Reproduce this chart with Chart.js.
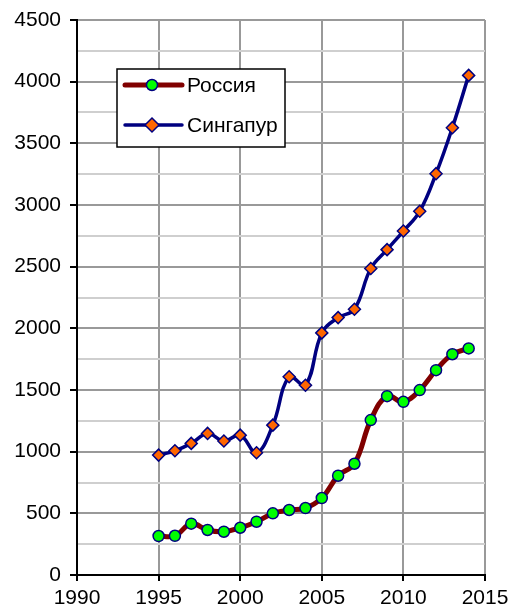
<!DOCTYPE html>
<html>
<head>
<meta charset="utf-8">
<script src="https://cdn.jsdelivr.net/npm/chart.js@4/dist/chart.umd.min.js"></script>
<style>
  html, body { margin: 0; padding: 0; background: #fff; }
  #wrap { width: 509px; height: 612px; position: relative; }
</style>
</head>
<body>
<div id="wrap"><canvas id="chart"></canvas></div>
<script>
// yearly values, 1995–2014
const years = [1995, 1996, 1997, 1998, 1999, 2000, 2001, 2002, 2003, 2004,
               2005, 2006, 2007, 2008, 2009, 2010, 2011, 2012, 2013, 2014];
const russia = [316, 318, 416, 365, 351, 383, 432, 500, 527, 543,
                624, 805, 902, 1256, 1450, 1404, 1499, 1661, 1790, 1837];
const singapore = [972, 1007, 1067, 1148, 1086, 1134, 991, 1215, 1607, 1539,
                   1963, 2087, 2155, 2485, 2638, 2789, 2949, 3254, 3627, 4051];
const seriesNames = ["Россия", "Сингапур"];
const xTicks = [1990, 1995, 2000, 2005, 2010, 2015];
const yMax = 4500;

const FONT = "'Liberation Sans', Arial, sans-serif";

function pts(vals) {
    return years.map((y, i) => ({ x: y, y: vals[i] }));
}

/* ----------------------------------------------------------
   legend box inside the plot area
----------------------------------------------------------- */
const boxLegend = {
    id: "boxLegend",
    afterDraw(chart) {
        const ctx = chart.ctx;
        const a = chart.chartArea;
        const x0 = a.left + 40, y0 = a.top + 49, w = 168, h = 78;
        ctx.save();
        ctx.fillStyle = "#fff";
        ctx.fillRect(x0, y0, w, h);
        ctx.strokeStyle = "#000";
        ctx.lineWidth = 1.5;
        ctx.strokeRect(x0, y0, w, h);

        chart.data.datasets.forEach((ds, i) => {
            const cy = y0 + 16 + i * 40;
            ctx.beginPath();
            ctx.moveTo(x0 + 8, cy);
            ctx.lineTo(x0 + 65, cy);
            ctx.strokeStyle = ds.borderColor;
            ctx.lineWidth = ds.borderWidth;
            ctx.lineCap = "round";
            ctx.stroke();

            const mx = x0 + 35;
            ctx.fillStyle = ds.pointBackgroundColor;
            ctx.strokeStyle = ds.pointBorderColor;
            ctx.lineWidth = ds.pointBorderWidth;
            ctx.beginPath();
            if (ds.pointStyle === "rectRot") {
                const r = ds.pointRadius + 1;
                ctx.moveTo(mx, cy - r);
                ctx.lineTo(mx + r, cy);
                ctx.lineTo(mx, cy + r);
                ctx.lineTo(mx - r, cy);
                ctx.closePath();
            } else {
                ctx.arc(mx, cy, ds.pointRadius, 0, Math.PI * 2);
            }
            ctx.fill();
            ctx.stroke();

            ctx.fillStyle = "#000";
            ctx.font = "21px " + FONT;
            ctx.textAlign = "left";
            ctx.textBaseline = "middle";
            ctx.fillText(ds.label, x0 + 70, cy + 1);
        });
        ctx.restore();
    }
};

new Chart(document.getElementById("chart"), {
    type: "line",
    data: {
        datasets: [
            {
                label: seriesNames[0],
                data: pts(russia),
                borderColor: "#800000",
                borderWidth: 5,
                tension: 0.4,
                pointStyle: "circle",
                pointRadius: 5.5,
                pointBackgroundColor: "#00ff00",
                pointBorderColor: "#000080",
                pointBorderWidth: 1.5
            },
            {
                label: seriesNames[1],
                data: pts(singapore),
                borderColor: "#000080",
                borderWidth: 3.5,
                tension: 0.4,
                pointStyle: "rectRot",
                pointRadius: 6,
                pointBackgroundColor: "#ff6600",
                pointBorderColor: "#000080",
                pointBorderWidth: 1.5
            }
        ]
    },
    options: {
        responsive: true,
        maintainAspectRatio: false,
        animation: false,
        layout: { padding: { left: 0, top: 20, right: 24, bottom: 0 } },
        plugins: { legend: { display: false }, tooltip: { enabled: false } },
        scales: {
            x: {
                type: "linear",
                min: xTicks[0],
                max: xTicks[xTicks.length - 1],
                afterBuildTicks: s => { s.ticks = xTicks.map(v => ({ value: v })); },
                afterFit: s => {
                    s.height = 37;
                    // let the label overhang into the page margin
                    s.paddingLeft = 0;
                    s.paddingRight = 0;
                },
                ticks: {
                    color: "#000",
                    font: { family: FONT, size: 21 },
                    padding: 5,
                    maxRotation: 0,
                    callback: v => String(v)
                },
                grid: {
                    color: ctx => ctx.tick && ctx.tick.value === xTicks[0] ? "rgba(0,0,0,0)" : "#999",
                    lineWidth: 2,
                    tickLength: 6,
                    tickColor: "#000",
                    tickWidth: 2
                },
                border: { color: "#000", width: 2 }
            },
            y: {
                min: 0,
                max: yMax,
                afterFit: s => {
                    s.width = 77;
                    s.paddingTop = 0;
                    s.paddingBottom = 0;
                },
                ticks: {
                    stepSize: 250,
                    color: "#000",
                    font: { family: FONT, size: 21 },
                    padding: 9,
                    callback: v => (v % 500 === 0 ? String(v) : "")
                },
                grid: {
                    color: ctx => (ctx.tick && ctx.tick.value % 500 === 0 ? "#999" : "#cfcfcf"),
                    lineWidth: 2,
                    tickLength: 7,
                    tickColor: ctx => (ctx.tick && ctx.tick.value % 500 === 0 ? "#000" : "rgba(0,0,0,0)"),
                    tickWidth: 2
                },
                border: { color: "#000", width: 2 }
            }
        }
    },
    plugins: [boxLegend]
});
</script>
</body>
</html>
